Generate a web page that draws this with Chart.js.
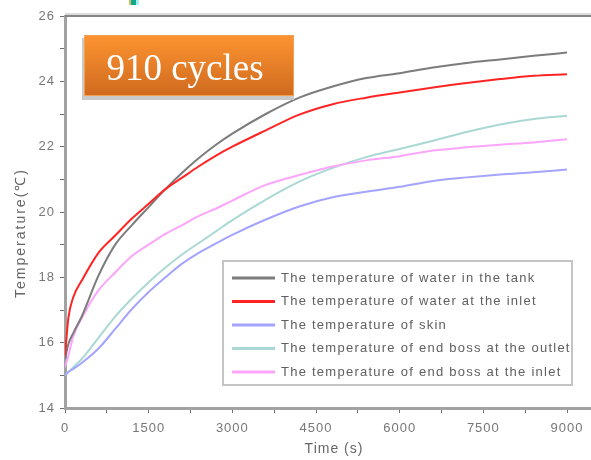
<!DOCTYPE html>
<html>
<head>
<meta charset="utf-8">
<script src="https://cdn.jsdelivr.net/npm/chart.js@4.4.1/dist/chart.umd.min.js"></script>
<style>
  html, body { margin: 0; padding: 0; background: #fff; }
  #wrap { position: relative; width: 591px; height: 460px; }
</style>
</head>
<body>
<div id="wrap"><canvas id="chart"></canvas></div>
<script>
// time axis (s)
const timeSec = [0, 60, 150, 300, 600, 900, 1200, 1500, 1800, 2100, 2400, 2700, 3000,
  3600, 4200, 4800, 5400, 6000, 6600, 7200, 7800, 8400, 9000];

// temperatures (°C)
const tankWater = [15.5, 15.95, 16.3, 16.8, 18.05, 19.0, 19.6, 20.15, 20.7, 21.2, 21.65, 22.05, 22.4,
  23.0, 23.5, 23.84, 24.1, 24.25, 24.42, 24.56, 24.67, 24.78, 24.88];
const inletWater = [15.6, 16.75, 17.4, 17.9, 18.75, 19.28, 19.8, 20.25, 20.7, 21.05, 21.4, 21.72, 22.0,
  22.5, 22.98, 23.3, 23.5, 23.66, 23.81, 23.95, 24.07, 24.17, 24.22];
const skin = [15.0, 15.1, 15.2, 15.38, 15.82, 16.42, 17.03, 17.55, 18.0, 18.42, 18.75, 19.03, 19.3,
  19.77, 20.17, 20.45, 20.62, 20.77, 20.95, 21.06, 21.15, 21.22, 21.3];
const bossOutlet = [15.0, 15.1, 15.25, 15.5, 16.15, 16.8, 17.35, 17.85, 18.3, 18.7, 19.05, 19.4, 19.75,
  20.38, 20.93, 21.35, 21.68, 21.93, 22.18, 22.45, 22.68, 22.85, 22.95];
const bossInlet = [15.25, 15.6, 16.2, 16.75, 17.6, 18.15, 18.65, 19.0, 19.33, 19.6, 19.88, 20.1, 20.35,
  20.83, 21.13, 21.39, 21.58, 21.71, 21.88, 21.98, 22.06, 22.13, 22.23];

const seriesNames = [
  'The temperature of water in the tank',
  'The temperature of water at the inlet',
  'The temperature of skin',
  'The temperature of end boss at the outlet',
  'The temperature of end boss at the inlet'
];
const seriesColors = ['#7c7c7c', '#ff2424', '#a4a4ff', '#aad8d4', '#fba6fb'];
const seriesData = [tankWater, inletWater, skin, bossOutlet, bossInlet];

const xTickLabels = [0, 1500, 3000, 4500, 6000, 7500, 9000];
const yTickLabels = [14, 16, 18, 20, 22, 24, 26];

const toPoints = (arr) => arr.map((v, i) => ({ x: timeSec[i], y: v }));

// draw order: pale lines first, dark ones on top
const drawOrder = [3, 4, 2, 0, 1];

const datasets = seriesNames.map((name, i) => ({
  label: name,
  data: toPoints(seriesData[i]),
  borderColor: seriesColors[i],
  backgroundColor: seriesColors[i],
  borderWidth: 2,
  pointRadius: 0,
  cubicInterpolationMode: 'monotone',
  order: drawOrder.indexOf(i) * -1
}));

// major ticks plus the minor ones halfway between
const withMinor = (labels) => {
  const out = [];
  labels.forEach((v, i) => {
    out.push({ value: v });
    if (i < labels.length - 1) out.push({ value: (v + labels[i + 1]) / 2 });
  });
  return out;
};

const FONT = '"Liberation Sans", Arial, sans-serif';

const decor = {
  id: 'decor',
  beforeDraw(chart) {
    chart.ctx.letterSpacing = '1px';
  },
  afterDraw(chart) {
    const ctx = chart.ctx;
    const area = chart.chartArea;
    ctx.save();

    // top frame line
    ctx.fillStyle = '#dcdcdc';
    ctx.fillRect(area.left, area.top - 3, chart.width - area.left, 2);
    ctx.fillStyle = '#858585';
    ctx.fillRect(area.left, area.top - 1, chart.width - area.left, 2);

    // tiny cropped glyph at top
    ctx.fillStyle = '#d8c060'; ctx.fillRect(129, 0, 2, 5);
    ctx.fillStyle = '#10a88a'; ctx.fillRect(131, 0, 5, 5);
    ctx.fillStyle = '#9ff0f0'; ctx.fillRect(136, 0, 3, 5);

    // axis titles
    ctx.fillStyle = '#666666';
    ctx.textAlign = 'center';
    ctx.textBaseline = 'middle';
    ctx.letterSpacing = '1px';
    ctx.font = '14px ' + FONT;
    ctx.fillText('Time (s)', 334, 449);
    ctx.save();
    ctx.translate(21, 233);
    ctx.rotate(-Math.PI / 2);
    ctx.letterSpacing = '2px';
    ctx.font = '14px ' + FONT;
    ctx.fillText('Temperature(℃)', 0, 0);
    ctx.restore();

    // "910 cycles" box
    ctx.letterSpacing = '0px';
    const bx = 84, by = 35, bw = 210, bh = 61;
    ctx.fillStyle = '#c9c9c9';
    ctx.fillRect(bx - 2, by + 3, bw + 2, bh + 1);
    const g = ctx.createLinearGradient(0, by, 0, by + bh);
    g.addColorStop(0, '#fd9431');
    g.addColorStop(1, '#cf6a1f');
    ctx.fillStyle = g;
    ctx.fillRect(bx, by, bw, bh);
    ctx.strokeStyle = '#f4a050';
    ctx.lineWidth = 1;
    ctx.strokeRect(bx + 0.5, by + 0.5, bw - 1, bh - 1);
    ctx.fillStyle = '#ffffff';
    ctx.font = '37px "Liberation Serif", "DejaVu Serif", serif';
    ctx.textAlign = 'center';
    ctx.textBaseline = 'alphabetic';
    ctx.fillText('910 cycles', bx + bw / 2 - 4, by + 45);

    // legend box
    const lx = 223, ly = 261, lw = 349, lh = 124;
    ctx.fillStyle = '#ffffff';
    ctx.fillRect(lx, ly, lw, lh);
    ctx.strokeStyle = '#c4c4c4';
    ctx.lineWidth = 2;
    ctx.strokeRect(lx, ly, lw, lh);
    ctx.font = '13px ' + FONT;
    ctx.letterSpacing = '1.25px';
    ctx.textAlign = 'left';
    ctx.textBaseline = 'middle';
    seriesNames.forEach((name, i) => {
      const yy = ly + 17 + i * 23.5;
      ctx.strokeStyle = seriesColors[i];
      ctx.lineWidth = 3;
      ctx.beginPath();
      ctx.moveTo(232, yy);
      ctx.lineTo(275, yy);
      ctx.stroke();
      ctx.fillStyle = '#606060';
      ctx.fillText(name, 281, yy);
    });
    ctx.restore();
    ctx.letterSpacing = '0px';
  }
};

new Chart(document.getElementById('chart'), {
  type: 'line',
  data: { datasets },
  plugins: [decor],
  options: {
    responsive: true,
    maintainAspectRatio: false,
    animation: false,
    layout: { padding: { top: 16, right: 0, left: 0, bottom: 0 } },
    plugins: {
      legend: { display: false },
      tooltip: { enabled: false }
    },
    scales: {
      x: {
        type: 'linear',
        min: 0,
        max: 9430,
        afterBuildTicks: (scale) => { scale.ticks = withMinor(xTickLabels); },
        afterFit: (scale) => { scale.height = 52; },
        ticks: {
          autoSkip: false,
          maxRotation: 0,
          padding: 8,
          color: '#777',
          font: { family: FONT, size: 13 },
          callback: (v) => xTickLabels.includes(v) ? String(v) : ''
        },
        grid: { drawOnChartArea: false, tickLength: 5, color: '#707070', tickWidth: 1 },
        border: { color: '#a2a2a2', width: 3 }
      },
      y: {
        min: 14,
        max: 26,
        afterBuildTicks: (scale) => { scale.ticks = withMinor(yTickLabels); },
        afterFit: (scale) => { scale.width = 65; },
        ticks: {
          autoSkip: false,
          padding: 5,
          color: '#777',
          font: { family: FONT, size: 13 },
          callback: (v) => yTickLabels.includes(v) ? String(v) : ''
        },
        grid: { drawOnChartArea: false, tickLength: 5, color: '#707070', tickWidth: 1 },
        border: { color: '#a2a2a2', width: 3 }
      }
    }
  }
});
</script>
</body>
</html>
